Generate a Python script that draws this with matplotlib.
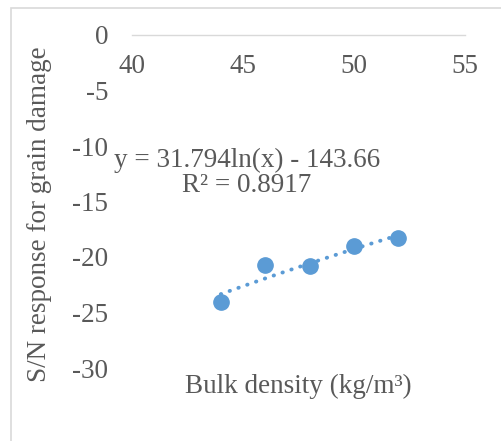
import numpy as np
import matplotlib
matplotlib.use('Agg')
import matplotlib.pyplot as plt
from matplotlib.patches import Rectangle

# data
bulk_density = [44, 46, 48, 50, 52]
sn_response = [-24.05, -20.7, -20.8, -19.0, -18.3]
x_ticks = [40, 45, 50, 55]
y_ticks = [0, -5, -10, -15, -20, -25, -30]

# log trendline as printed on the chart
coef_a = 31.794
coef_b = -143.66
r_squared = 0.8917

plt.rcParams['font.family'] = ['Liberation Serif', 'DejaVu Serif']
gray = '#595959'
blue = '#5B9BD5'
fs = 19.5

fig = plt.figure(figsize=(5.01, 4.41), dpi=100)
fig.patches.append(Rectangle((11 / 501, -0.1), 1.2, 1.1 - 8 / 441, transform=fig.transFigure,
                             fill=False, edgecolor='#d9d9d9', linewidth=1.2))

ax = fig.add_axes([132 / 501, 1 - 368 / 441, 333 / 501, 333 / 441])
ax.set_xlim(40, 55)
ax.set_ylim(-30, 0)

# trendline
xt = np.linspace(bulk_density[0], bulk_density[-1], 100)
ax.plot(xt, coef_a * np.log(xt) + coef_b, color=blue, linewidth=2.8,
        linestyle=(0, (0.1, 2.3)), dash_capstyle='round', zorder=2)
ax.plot(bulk_density, sn_response, 'o', color=blue, markersize=11, zorder=3)

for s in ['top', 'right', 'left']:
    ax.spines[s].set_visible(False)
ax.spines['bottom'].set_position(('data', 0))
ax.spines['bottom'].set_color('#d9d9d9')
ax.spines['bottom'].set_linewidth(1)

ax.set_xticks(x_ticks)
ax.set_yticks(y_ticks)
ax.set_yticklabels([str(v) for v in y_ticks])
ax.tick_params(axis='x', length=0, pad=14, labelsize=fs, colors=gray)
ax.tick_params(axis='y', length=0, pad=17, labelsize=fs, colors=gray)

eq = 'y = %.3fln(x) - %.2f\nR² = %.4f' % (coef_a, -coef_b, r_squared)
ax.text(45.18, -12.4, eq, ha='center', va='center', fontsize=fs, color=gray,
        linespacing=1.0)

fig.text(298 / 501, 1 - 386 / 441, 'Bulk density (kg/m³)', ha='center', va='center',
         fontsize=fs, color=gray)
fig.text(40 / 501, 1 - 214 / 441, 'S/N response for grain damage', ha='center', va='center',
         rotation=90, fontsize=fs, color=gray)

fig.savefig('out.png', dpi=100)
